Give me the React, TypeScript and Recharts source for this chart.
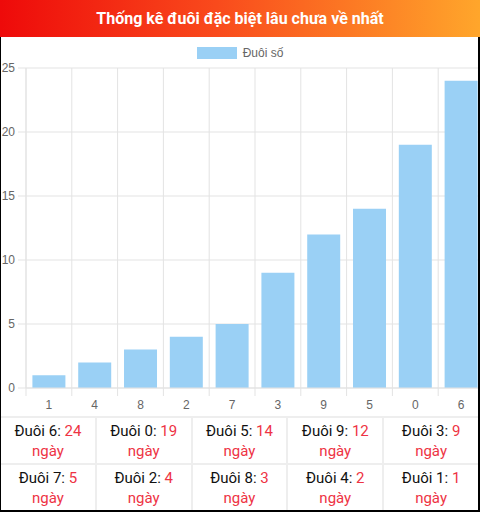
import { Bar, BarChart, CartesianGrid, XAxis, YAxis } from "recharts";

const title = "Thống kê đuôi đặc biệt lâu chưa về nhất";
const seriesName = "Đuôi số";
const tails = ["1", "4", "8", "2", "7", "3", "9", "5", "0", "6"];
const days = [1, 2, 3, 4, 5, 9, 12, 14, 19, 24];
const yTicks = [0, 5, 10, 15, 20, 25];

const BAR = "#9ad0f5";
const GRID = "#e3e3e3";
const RED = "#ee3344";
const CHART_FONT = "'Liberation Sans', Arial, sans-serif";

const data = tails.map((tail, i) => ({ tail, days: days[i] }));
const tableRows = [...data].reverse();

function BandTick(props: any) {
	const { x, y, payload } = props;
	const edge = x - (payload.offset ?? 0);
	return (
		<g>
			<line x1={edge} x2={edge} y1={y - 12} y2={y - 4} stroke={GRID} />
			<text
				x={x}
				y={y}
				dy="0.71em"
				textAnchor="middle"
				fill="#666"
				fontSize={12}
				fontFamily={CHART_FONT}
			>
				{payload.value}
			</text>
		</g>
	);
}

export default function App() {
	return (
		<div
			style={{
				position: "absolute",
				left: 0,
				top: 0,
				width: 480,
				height: 512,
				overflow: "hidden",
				background: "#fff",
				fontFamily: "Roboto, sans-serif",
			}}
		>
			<div style={{ position: "absolute", left: 0, top: 37 }}>
				<BarChart
					width={484}
					height={380}
					data={data}
					margin={{ top: 31, right: 0, bottom: 0, left: 0 }}
					barCategoryGap="14%"
				>
					<CartesianGrid
						stroke={GRID}
						verticalCoordinatesGenerator={({ offset }: any) =>
							tails.map(
								(_, i) => offset.left + (i * offset.width) / tails.length,
							)
						}
					/>
					<XAxis
						dataKey="tail"
						height={29}
						tickLine={false}
						tickSize={8}
						tickMargin={4}
						axisLine={{ stroke: GRID }}
						tick={<BandTick />}
						interval={0}
					/>
					<YAxis
						width={26}
						domain={[0, 25]}
						ticks={yTicks}
						tickSize={8}
						tickMargin={3}
						axisLine={{ stroke: GRID }}
						tickLine={{ stroke: GRID }}
						tick={{ fill: "#666", fontSize: 12, fontFamily: CHART_FONT }}
					/>
					<Bar
						dataKey="days"
						name={seriesName}
						fill={BAR}
						isAnimationActive={false}
					/>
				</BarChart>
			</div>

			<div
				style={{
					position: "absolute",
					top: 46,
					left: 0,
					width: 480,
					display: "flex",
					justifyContent: "center",
					alignItems: "center",
					fontFamily: CHART_FONT,
					fontSize: 12,
					color: "#666",
				}}
			>
				<span
					style={{
						display: "inline-block",
						width: 40,
						height: 12,
						background: BAR,
						marginRight: 6,
					}}
				/>
				<span style={{ lineHeight: "14px" }}>{seriesName}</span>
			</div>

			<div
				style={{
					position: "absolute",
					left: 0,
					top: 0,
					width: 480,
					height: 37,
					background: "linear-gradient(to right, #ee0a0a, #f94a1c 45%, #ffa62b)",
					color: "#fff",
					fontWeight: 700,
					fontSize: 16,
					lineHeight: "37px",
					textAlign: "center",
				}}
			>
				{title}
			</div>

			<div
				style={{
					position: "absolute",
					left: 1,
					top: 416,
					width: 477,
					height: 94,
					boxSizing: "border-box",
					paddingTop: 2,
					background: "#eee",
					display: "grid",
					gridTemplateColumns: "repeat(5, 1fr)",
					gridTemplateRows: "1fr 1fr",
					gap: 2,
				}}
			>
				{tableRows.map((row) => (
					<div
						key={row.tail}
						style={{
							background: "#fff",
							display: "flex",
							flexDirection: "column",
							justifyContent: "center",
							alignItems: "center",
							fontSize: 15,
							lineHeight: "20px",
							color: "#111",
						}}
					>
						<div>
							Đuôi {row.tail}: <span style={{ color: RED }}>{row.days}</span>
						</div>
						<div style={{ color: RED }}>ngày</div>
					</div>
				))}
			</div>

			<div
				style={{
					position: "absolute",
					left: 0,
					top: 37,
					width: 480,
					height: 475,
					boxSizing: "border-box",
					borderLeft: "1px solid #000",
					borderRight: "2px solid #000",
					borderBottom: "2px solid #000",
					pointerEvents: "none",
				}}
			/>
		</div>
	);
}
